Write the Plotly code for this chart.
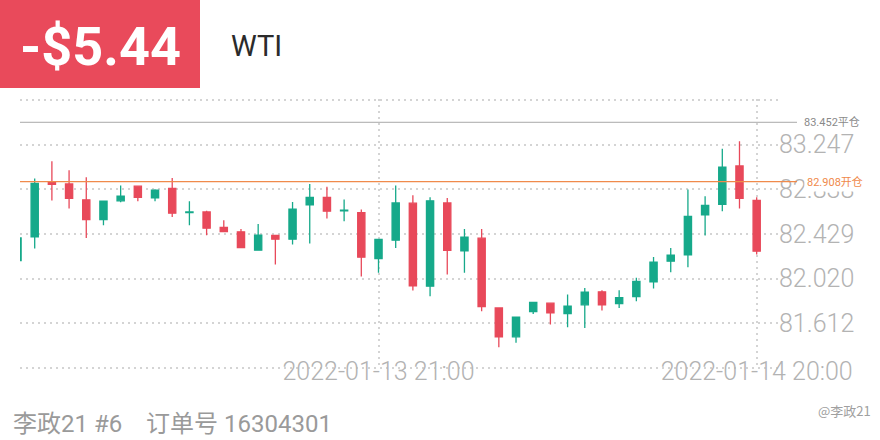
import plotly.graph_objects as go

# ---------------- data ----------------
times = [
    "2022-01-12 23:00", "2022-01-13 00:00", "2022-01-13 01:00", "2022-01-13 02:00",
    "2022-01-13 03:00", "2022-01-13 04:00", "2022-01-13 05:00", "2022-01-13 07:00",
    "2022-01-13 08:00", "2022-01-13 09:00", "2022-01-13 10:00", "2022-01-13 11:00",
    "2022-01-13 12:00", "2022-01-13 13:00", "2022-01-13 14:00", "2022-01-13 15:00",
    "2022-01-13 16:00", "2022-01-13 17:00", "2022-01-13 18:00", "2022-01-13 19:00",
    "2022-01-13 20:00", "2022-01-13 21:00", "2022-01-13 22:00", "2022-01-13 23:00",
    "2022-01-14 00:00", "2022-01-14 01:00", "2022-01-14 02:00", "2022-01-14 03:00",
    "2022-01-14 04:00", "2022-01-14 05:00", "2022-01-14 07:00", "2022-01-14 08:00",
    "2022-01-14 09:00", "2022-01-14 10:00", "2022-01-14 11:00", "2022-01-14 12:00",
    "2022-01-14 13:00", "2022-01-14 14:00", "2022-01-14 15:00", "2022-01-14 16:00",
    "2022-01-14 17:00", "2022-01-14 18:00", "2022-01-14 19:00", "2022-01-14 20:00",
]
opens = [82.187, 82.403, 82.904, 82.888, 82.742, 82.562, 82.733, 82.867, 82.760, 82.846,
         82.625, 82.632, 82.489, 82.449, 82.281, 82.416, 82.382, 82.696, 82.764, 82.641,
         82.626, 82.205, 82.373, 82.712, 81.952, 82.714, 82.275, 82.391, 81.753, 81.488,
         81.720, 81.796, 81.702, 81.781, 81.900, 81.793, 81.857, 81.991, 82.181, 82.238,
         82.604, 82.700, 83.053, 82.736]
highs = [82.400, 82.938, 83.096, 83.014, 82.950, 82.731, 82.874, 82.874, 82.840, 82.943,
         82.730, 82.643, 82.556, 82.476, 82.522, 82.420, 82.723, 82.888, 82.861, 82.745,
         82.654, 82.386, 82.874, 82.785, 82.766, 82.760, 82.476, 82.476, 81.760, 81.673,
         81.807, 81.801, 81.876, 81.936, 81.915, 81.915, 82.028, 82.220, 82.302, 82.837,
         82.776, 83.209, 83.279, 82.766]
lows = [82.181, 82.297, 82.736, 82.663, 82.394, 82.510, 82.721, 82.730, 82.730, 82.586,
        82.510, 82.419, 82.446, 82.300, 82.277, 82.150, 82.334, 82.343, 82.572, 82.547,
        82.041, 82.074, 82.302, 81.912, 81.860, 82.059, 82.074, 81.723, 81.393, 81.433,
        81.698, 81.601, 81.577, 81.570, 81.729, 81.753, 81.814, 81.931, 82.080, 82.126,
        82.416, 82.638, 82.663, 82.242]
closes = [82.394, 82.892, 82.883, 82.755, 82.562, 82.730, 82.776, 82.766, 82.831, 82.620,
          82.632, 82.483, 82.452, 82.306, 82.419, 82.382, 82.657, 82.764, 82.638, 82.647,
          82.217, 82.379, 82.714, 81.955, 82.733, 82.279, 82.400, 81.766, 81.488, 81.668,
          81.803, 81.707, 81.769, 81.897, 81.781, 81.848, 81.995, 82.171, 82.236, 82.590,
          82.691, 83.041, 82.755, 82.272]

y_ticks = [81.203, 81.612, 82.020, 82.429, 82.838, 83.247, 83.656]
y_tick_text = ["", "81.612", "82.020", "82.429", "82.838", "83.247", ""]
x_tick_idx = [21, 43]
x_tick_text = ["2022-01-13 21:00", "2022-01-14 20:00"]

close_price = 83.452
open_price = 82.908
pnl_text = "-$5.44"
symbol = "WTI"
footer = "李政21 #6\u00a0\u00a0\u00a0\u00a0订单号 16304301"
watermark = "@李政21"

GREEN = "#16A98A"
RED = "#E8495A"
ORANGE = "#F08A4B"
GRID = "#d4d4d4"
TICK = "#b3b3b3"

fig = go.Figure()
fig.add_trace(go.Candlestick(
    x=times, open=opens, high=highs, low=lows, close=closes,
    increasing=dict(line=dict(color=GREEN, width=1.3), fillcolor=GREEN),
    decreasing=dict(line=dict(color=RED, width=1.3), fillcolor=RED),
    whiskerwidth=0, showlegend=False, hoverinfo="skip",
))

W, H = 880, 440
L, R, T, B = 20, 102, 99, 71
pw, ph = W - L - R, H - T - B

def px_x(px):
    return (px - L) / pw

def px_y(py):
    return (H - B - py) / ph

fig.update_layout(
    width=W, height=H,
    margin=dict(l=L, r=R, t=T, b=B),
    paper_bgcolor="white", plot_bgcolor="white",
    boxgap=0.4,
    showlegend=False,
    xaxis=dict(
        type="category", range=[0.145, 44.24],
        tickvals=[times[i] for i in x_tick_idx], ticktext=x_tick_text,
        showgrid=True, gridcolor=GRID, griddash="2px,4px", gridwidth=1.5,
        zeroline=False, showline=False, ticks="",
        rangeslider=dict(visible=False),
        tickfont=dict(family="Roboto", size=25, color=TICK, weight=300),
        ticklabelstandoff=-15,
    ),
    yaxis=dict(
        side="right", range=[81.1938, 83.6652],
        tickvals=y_ticks, ticktext=y_tick_text,
        showgrid=True, gridcolor=GRID, griddash="2px,4px", gridwidth=1.5,
        zeroline=False, showline=False, ticks="",
        tickfont=dict(family="Roboto", size=25, color=TICK, weight=300),
    ),
    shapes=[
        dict(type="line", xref="paper", yref="y", x0=0, x1=px_x(797),
             y0=close_price, y1=close_price, line=dict(color="#a9a9a9", width=1)),
        dict(type="line", xref="paper", yref="y", x0=0, x1=px_x(797),
             y0=open_price, y1=open_price, line=dict(color=ORANGE, width=1.3)),
        dict(type="rect", xref="paper", yref="paper", x0=px_x(0), x1=px_x(200),
             y0=px_y(88), y1=px_y(0), fillcolor="#E94A5B", line=dict(width=0),
             layer="above"),
    ],
    annotations=[
        dict(text=f"{close_price:.3f}平仓", xref="paper", yref="y", x=px_x(802),
             y=close_price, xanchor="left", yanchor="middle", showarrow=False,
             font=dict(family="Roboto, Noto Sans CJK SC", size=11, color="#8a8a8a")),
        dict(text=f"{open_price:.3f}开仓", xref="paper", yref="y", x=px_x(804),
             y=open_price, xanchor="left", yanchor="middle", showarrow=False,
             bgcolor="white", borderpad=2,
             font=dict(family="Roboto, Noto Sans CJK SC", size=11, color=ORANGE)),
        dict(text=f"<b>{pnl_text}</b>", xref="paper", yref="paper", x=px_x(100),
             y=px_y(46), xanchor="center", yanchor="middle", showarrow=False,
             font=dict(family="Roboto", size=54, color="white")),
        dict(text=symbol, xref="paper", yref="paper", x=px_x(229),
             y=px_y(46), xanchor="left", yanchor="middle", showarrow=False,
             font=dict(family="Roboto", size=29, color="#2b2b2b")),
        dict(text=footer, xref="paper", yref="paper", x=px_x(11),
             y=px_y(424), xanchor="left", yanchor="middle", showarrow=False,
             font=dict(family="Roboto, Noto Sans CJK SC", size=24, color="#9a9a9a")),
        dict(text=watermark, xref="paper", yref="paper", x=px_x(873),
             y=px_y(410), xanchor="right", yanchor="middle", showarrow=False,
             font=dict(family="Noto Sans CJK SC", size=13, color="#a0a0a0")),
    ],
)

fig.write_html(
    "out.html",
    config={"displayModeBar": False},
    post_script="document.body.style.margin='0';document.body.style.overflow='hidden';",
)
